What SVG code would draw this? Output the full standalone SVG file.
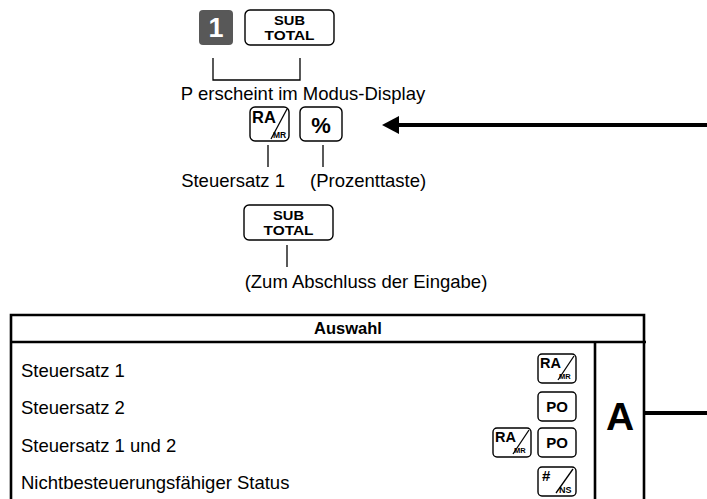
<svg xmlns="http://www.w3.org/2000/svg" width="707" height="499" viewBox="0 0 707 499">
<style>
.t{font-family:"Liberation Sans",Arial,sans-serif;font-size:18.5px;fill:#000}
.b{font-family:"Liberation Sans",Arial,sans-serif;font-weight:bold;fill:#000}
.key{fill:#fff;stroke:#000;stroke-width:1.4}
.ln{stroke:#000;stroke-width:1.3;fill:none}
.tb{stroke:#000;stroke-width:2.6;fill:none}
</style>
<defs>
<g id="ramr">
<rect class="key" x="0" y="0" width="38" height="29" rx="4"/>
<text class="b" x="2" y="13.5" font-size="14.5">RA</text>
<line class="ln" x1="36" y1="2" x2="20" y2="26"/>
<text class="b" x="21" y="25" font-size="7.5">MR</text>
</g>
<g id="po">
<rect class="key" x="0" y="0" width="38" height="29" rx="4"/>
<text class="b" x="19" y="20" font-size="15" text-anchor="middle">PO</text>
</g>
<g id="nsk">
<rect class="key" x="0" y="0" width="38" height="29" rx="4"/>
<text class="b" x="4" y="14" font-size="15">#</text>
<line class="ln" x1="35" y1="2" x2="18" y2="26"/>
<text class="b" x="21" y="26" font-size="9">NS</text>
</g>
</defs>

<g id="key1">
<rect x="199" y="10" width="34" height="35" rx="4" fill="#585858"/>
<text class="b" x="216" y="37" font-size="27" text-anchor="middle" style="fill:#fff">1</text>
</g>
<g id="subtotal1">
<rect class="key" x="245" y="10" width="89" height="35" rx="5"/>
<text class="b" x="289.5" y="25" font-size="13.4" text-anchor="middle" textLength="31" lengthAdjust="spacingAndGlyphs">SUB</text>
<text class="b" x="289.5" y="40" font-size="13.4" text-anchor="middle" textLength="50" lengthAdjust="spacingAndGlyphs">TOTAL</text>
</g>
<g id="label-p">
<text class="t" x="303" y="100" text-anchor="middle" font-size="18">P erscheint im Modus-Display</text>
</g>
<g id="key-ramr">
<rect class="key" x="250" y="107" width="39" height="34" rx="5"/>
<text class="b" x="252" y="123" font-size="16.5">RA</text>
<line class="ln" x1="287" y1="109" x2="271" y2="139"/>
<text class="b" x="273" y="138" font-size="8.5">MR</text>
</g>
<g id="key-pct">
<rect class="key" x="300" y="107" width="42" height="34" rx="5"/>
<text class="b" x="321" y="133" font-size="22" text-anchor="middle">%</text>
</g>
<g id="label-st1">
<text class="t" x="285" y="187" text-anchor="end">Steuersatz 1</text>
</g>
<g id="label-pct">
<text class="t" x="310" y="187">(Prozenttaste)</text>
</g>
<g id="subtotal2">
<rect class="key" x="244" y="205" width="89" height="35" rx="5"/>
<text class="b" x="288.5" y="220" font-size="13.4" text-anchor="middle" textLength="31" lengthAdjust="spacingAndGlyphs">SUB</text>
<text class="b" x="288.5" y="235" font-size="13.4" text-anchor="middle" textLength="50" lengthAdjust="spacingAndGlyphs">TOTAL</text>
</g>
<g id="label-end">
<text class="t" x="366" y="288" text-anchor="middle">(Zum Abschluss der Eingabe)</text>
</g>

<g id="table">
<polyline class="tb" points="11,510 11,315 644,315 644,510"/>
<line class="tb" x1="11" y1="342" x2="646" y2="342"/>
<line class="tb" x1="595" y1="342" x2="595" y2="510"/>
<text class="b" x="348" y="334" font-size="16.5" text-anchor="middle">Auswahl</text>
<text class="t" x="21" y="377">Steuersatz 1</text>
<text class="t" x="21" y="414">Steuersatz 2</text>
<text class="t" x="21" y="452">Steuersatz 1 und 2</text>
<text class="t" x="21" y="489">Nichtbesteuerungsfähiger Status</text>
<use href="#ramr" x="538" y="354"/>
<use href="#po" x="538" y="392"/>
<use href="#ramr" x="493" y="428"/>
<use href="#po" x="538" y="428"/>
<use href="#nsk" x="538" y="467"/>
<text class="b" x="620" y="430" font-size="39" text-anchor="middle">A</text>
</g>

<g id="connectors">
<polyline class="ln" points="213,58 213,80 300,80 300,58"/>
<line class="ln" x1="268" y1="145" x2="268" y2="167"/>
<line class="ln" x1="323" y1="145" x2="323" y2="167"/>
<line class="ln" x1="287" y1="245" x2="287" y2="267"/>
<line x1="398" y1="125" x2="707" y2="125" stroke="#000" stroke-width="4"/>
<polygon points="382,125 399,116 399,134" fill="#000"/>
<line x1="645" y1="413" x2="707" y2="413" stroke="#000" stroke-width="4"/>
</g>
</svg>
